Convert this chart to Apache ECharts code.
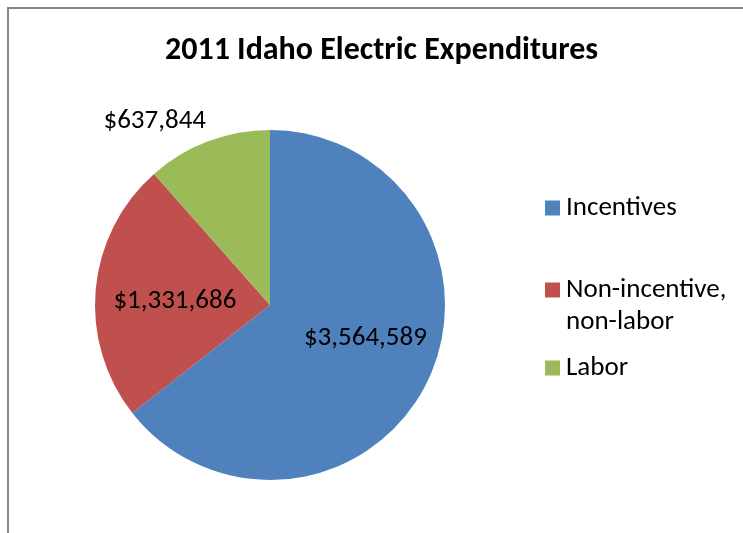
<!DOCTYPE html>
<html>
<head>
<meta charset="utf-8">
<script src="https://cdn.jsdelivr.net/npm/echarts@6/dist/echarts.min.js"></script>
<style>
  html, body { margin: 0; padding: 0; background: #fff; }
  #chart { width: 743px; height: 533px; }
</style>
</head>
<body>
<div id="chart"></div>
<script>
// Expenditure categories and their dollar amounts
const categories = ['Incentives', 'Non-incentive,\nnon-labor', 'Labor'];
const amounts = [3564589, 1331686, 637844];
const colors = ['#4F81BD', '#C0504D', '#9BBB59'];
const titleText = '2011 Idaho Electric Expenditures';

const FONT = 'Carlito, Lato, "Open Sans", sans-serif';

function money(v) {
  return '$' + v.toLocaleString('en-US');
}

// value label nudges per slice
const labelOffsets = [[14, -6], [-5, 4], [3, -20]];

const pieData = categories.map((name, i) => {
  const item = {
    name: name, value: amounts[i],
    itemStyle: { color: colors[i] },
    label: { offset: labelOffsets[i] }
  };
  if (i === 2) {
    // small slice: value sits outside the pie, no leader line
    item.label.position = 'outside';
    item.labelLine = { show: false, length: 0, length2: 0 };
  }
  return item;
});

// one legend block per category so each entry can sit at its own height;
// a wrapped name shows its first line in the legend, the rest below it
const legendTops = [187, 269, 347];
const legendX = 540;
const legendPad = 5;
const legends = categories.map((name, i) => ({
  data: [name],
  orient: 'vertical',
  left: legendX,
  top: legendTops[i],
  padding: legendPad,
  itemWidth: 15,
  itemHeight: 15,
  itemGap: 0,
  icon: 'rect',
  selectedMode: false,
  formatter: n => n.split('\n')[0],
  textStyle: {
    fontFamily: FONT, fontSize: 27, color: '#000', lineHeight: 32,
    padding: [0, 0, 0, 1]
  }
}));

const wrapped = [];
categories.forEach((name, i) => {
  const lines = name.split('\n');
  lines.slice(1).forEach((line, k) => {
    wrapped.push({
      type: 'text',
      left: legendX + legendPad + 15 + 6,
      top: legendTops[i] + legendPad + 32 * (k + 1),
      silent: true,
      style: { text: line, font: '27px ' + FONT, fill: '#000', lineHeight: 32 }
    });
  });
});

const chart = echarts.init(document.getElementById('chart'), null, { renderer: 'canvas' });
chart.setOption({
  backgroundColor: '#fff',
  animation: false,
  title: {
    text: titleText,
    left: 160,
    top: 30,
    textStyle: { fontFamily: FONT, fontSize: 32, fontWeight: 'bold', color: '#000' }
  },
  legend: legends,
  graphic: [{
    type: 'rect',
    shape: { x: 8, y: 8, width: 900, height: 700 },
    style: { fill: 'none', stroke: '#868686', lineWidth: 2 },
    silent: true
  }].concat(wrapped),
  series: [{
    type: 'pie',
    center: [270, 305],
    radius: 175,
    startAngle: 90,
    clockwise: true,
    avoidLabelOverlap: false,
    label: {
      show: true,
      position: 'inside',
      formatter: p => money(p.value),
      fontFamily: FONT,
      fontSize: 27,
      color: '#000'
    },
    labelLine: { show: false },
    emphasis: { disabled: true },
    data: pieData
  }]
});
</script>
</body>
</html>
